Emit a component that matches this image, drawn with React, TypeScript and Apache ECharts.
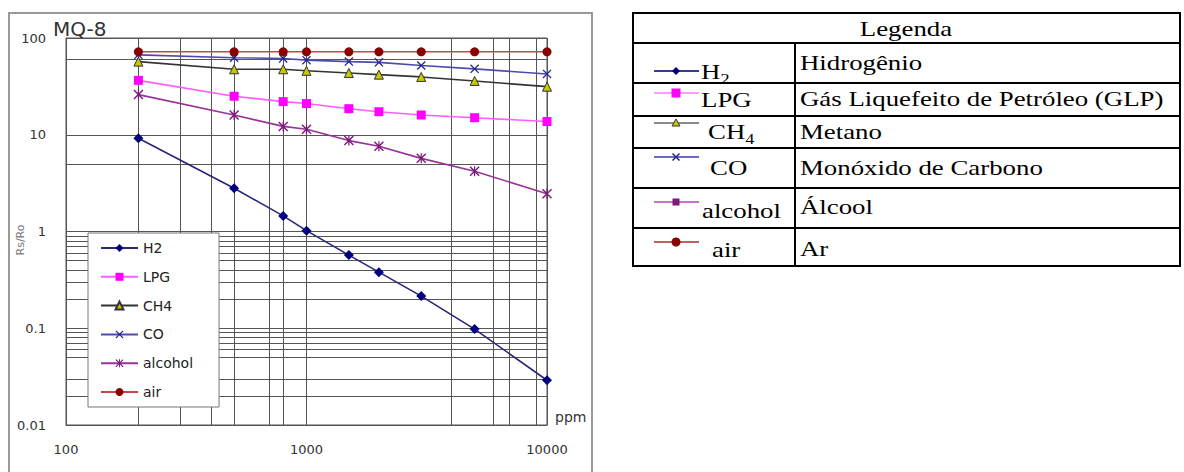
import React, { useEffect, useRef } from 'react';
import * as echarts from 'echarts';

// ---- data ----
const ppm = [200, 500, 800, 1000, 1500, 2000, 3000, 5000, 10000];
const h2 = [9.2, 2.8, 1.45, 1.02, 0.57, 0.38, 0.215, 0.098, 0.029];
const lpg = [36.5, 25, 22, 21, 18.6, 17.3, 16, 15, 13.7];
const ch4 = [57, 47.5, 47.5, 45.8, 43.5, 41.8, 39.6, 36, 31.4];
const co = [67, 62.5, 61.5, 59, 57, 56, 52, 48, 42.5];
const alcohol = [26, 16, 12.2, 11.4, 8.7, 7.6, 5.7, 4.2, 2.45];
const air = [72, 72, 72, 72, 72, 72, 72, 72, 72];

const seriesNames = ['H2', 'LPG', 'CH4', 'CO', 'alcohol', 'air'];
const xTickLabels = ['100', '1000', '10000'];
const yTickLabels = ['0.01', '0.1', '1', '10', '100'];
const xGridExtra = [200, 300, 400, 500, 700, 800, 4000, 6000, 7000, 9000];
const yGridExtra = [60, 5, 0.9, 0.8, 0.7, 0.6, 0.5, 0.4, 0.3, 0.2, 0.09, 0.08, 0.07, 0.06, 0.05, 0.03, 0.02];

const tableHeader = 'Legenda';
const tableCodes = [
  ['H', '2'],
  ['LPG', ''],
  ['CH', '4'],
  ['CO', ''],
  ['alcohol', ''],
  ['air', ''],
];
const tableNames = ['Hidrogênio', 'Gás Liquefeito de Petróleo (GLP)', 'Metano', 'Monóxido de Carbono', 'Álcool', 'Ar'];

// ---- styles ----
const SANS = '"DejaVu Sans", Verdana, sans-serif';
const SERIF = '"Liberation Serif", "Times New Roman", serif';
const GRID = '#555';
const X_SYMBOL = 'path://M0,1L1,0L5,4L9,0L10,1L6,5L10,9L9,10L5,6L1,10L0,9L4,5Z';
const AST_SYMBOL = 'path://M0,1L1,0L5,4L9,0L10,1L6,5L10,9L9,10L5,6L1,10L0,9L4,5Z M4.4,0L5.6,0L5.6,10L4.4,10Z';

const seriesStyles = [
  { line: '#26267a', fill: '#000080', symbol: 'diamond', size: 10, border: '#000080' },
  { line: '#ff5cff', fill: '#ff00ff', symbol: 'rect', size: 9, border: '#ff00ff' },
  { line: '#333333', fill: '#c8c800', symbol: 'triangle', size: 9, border: '#333333' },
  { line: '#4c4cb0', fill: '#24248c', symbol: X_SYMBOL, size: 9, border: '#24248c' },
  { line: '#993399', fill: '#7a1a7a', symbol: AST_SYMBOL, size: 10, border: '#7a1a7a' },
  { line: '#c04848', fill: '#8b0000', symbol: 'circle', size: 9, border: '#8b0000' },
];
const seriesValues = [h2, lpg, ch4, co, alcohol, air];

function tableGraphics(): any[] {
  const els: any[] = [];
  const L = 633, R = 1180, MID = 795;
  const rows = [13, 43, 83, 116, 148, 188, 228, 266];
  const iconY = [71, 93, 123, 157, 202, 242];
  const codeY = [71, 99, 131, 167, 210, 249];
  const codeX = [701, 701, 708, 710, 702, 712];
  const nameY = [62, 98, 131, 167, 206, 248];
  const ls = { stroke: '#000', lineWidth: 2 };
  rows.forEach((y) => els.push({ type: 'line', shape: { x1: L - 1, y1: y, x2: R + 1, y2: y }, style: ls }));
  els.push({ type: 'line', shape: { x1: L, y1: rows[0], x2: L, y2: rows[7] }, style: ls });
  els.push({ type: 'line', shape: { x1: R, y1: rows[0], x2: R, y2: rows[7] }, style: ls });
  els.push({ type: 'line', shape: { x1: MID, y1: rows[1], x2: MID, y2: rows[7] }, style: ls });
  els.push({
    type: 'text', x: 906, y: 28, scaleX: 1.22,
    style: { text: tableHeader, fontSize: 22, fontFamily: SERIF, fill: '#000', align: 'center', verticalAlign: 'middle' },
  });
  tableNames.forEach((n, i) => {
    els.push({
      type: 'text', x: 800, y: nameY[i], scaleX: 1.22,
      style: { text: n, fontSize: 22, fontFamily: SERIF, fill: '#000', align: 'left', verticalAlign: 'middle' },
    });
  });
  tableCodes.forEach((c, i) => {
    const txt = c[1] ? `{b|${c[0]}}{s|${c[1]}}` : `{b|${c[0]}}`;
    els.push({
      type: 'text', x: codeX[i], y: codeY[i], scaleX: 1.22,
      style: {
        text: txt, fill: '#000', align: 'left', verticalAlign: 'middle',
        rich: {
          b: { fontSize: 22, fontFamily: SERIF, lineHeight: 26, fill: '#000' },
          s: { fontSize: 15, fontFamily: SERIF, lineHeight: 32, verticalAlign: 'bottom', fill: '#000' },
        },
      },
    });
  });
  // icons
  const lightLines = ['#3a3a90', '#ff9cff', '#8a8a8a', '#6a6acc', '#cc70cc', '#c06060'];
  seriesStyles.forEach((s, i) => {
    const cy = iconY[i];
    const cx = 676;
    els.push({ type: 'line', shape: { x1: 654, y1: cy, x2: 699, y2: cy }, style: { stroke: lightLines[i], lineWidth: 2 } });
    if (i === 0) {
      els.push({ type: 'polygon', shape: { points: [[cx, cy - 4], [cx + 4, cy], [cx, cy + 4], [cx - 4, cy]] }, style: { fill: s.fill } });
    } else if (i === 1) {
      els.push({ type: 'rect', shape: { x: cx - 4.5, y: cy - 4.5, width: 9, height: 9 }, style: { fill: s.fill } });
    } else if (i === 2) {
      els.push({ type: 'polygon', shape: { points: [[cx, cy - 4], [cx + 4, cy + 3], [cx - 4, cy + 3]] }, style: { fill: s.fill, stroke: '#333', lineWidth: 1 } });
    } else if (i === 3) {
      els.push({ type: 'line', shape: { x1: cx - 3.5, y1: cy - 3.5, x2: cx + 3.5, y2: cy + 3.5 }, style: { stroke: s.fill, lineWidth: 1.5 } });
      els.push({ type: 'line', shape: { x1: cx + 3.5, y1: cy - 3.5, x2: cx - 3.5, y2: cy + 3.5 }, style: { stroke: s.fill, lineWidth: 1.5 } });
    } else if (i === 4) {
      els.push({ type: 'rect', shape: { x: cx - 3.5, y: cy - 3.5, width: 7, height: 7 }, style: { fill: s.fill } });
    } else {
      els.push({ type: 'circle', shape: { cx, cy, r: 4.5 }, style: { fill: s.fill } });
    }
  });
  return els;
}

export default function App() {
  const ref = useRef<HTMLDivElement>(null);
  useEffect(() => {
    if (!ref.current) return;
    const chart = echarts.init(ref.current, null, { renderer: 'svg' });
    const dataSeries = seriesNames.map((name, i) => {
      const s = seriesStyles[i];
      return {
        name,
        type: 'line',
        data: ppm.map((x, j) => [x, seriesValues[i][j]]),
        symbol: s.symbol,
        symbolSize: s.size,
        lineStyle: { color: s.line, width: 1.6 },
        itemStyle: { color: s.fill, borderColor: s.border, borderWidth: i === 2 ? 1 : 0 },
        z: 3,
      };
    });
    const gridSeries = {
      name: 'grid',
      type: 'line',
      data: [[100, 0.01]],
      symbol: 'none',
      lineStyle: { opacity: 0 },
      silent: true,
      z: 1,
      markLine: {
        silent: true,
        z: 1,
        symbol: ['none', 'none'],
        label: { show: false },
        lineStyle: { color: GRID, width: 1, type: 'solid' },
        emphasis: { disabled: true },
        data: [
          ...xGridExtra.map((v) => ({ xAxis: v })),
          ...yGridExtra.map((v) => ({ yAxis: v })),
        ],
      },
    };
    chart.setOption({
      animation: false,
      title: {
        text: 'MQ-8', left: 53, top: 19, padding: 0,
        textStyle: { fontSize: 20, fontWeight: 'normal', color: '#333', fontFamily: SANS },
      },
      grid: { left: 66, top: 38, width: 481, height: 387, show: true, borderColor: GRID, borderWidth: 1 },
      legend: {
        data: seriesNames,
        orient: 'vertical',
        left: 88,
        top: 233,
        z: 10,
        padding: [8, 26, 8, 12],
        itemWidth: 37,
        itemHeight: 10,
        itemGap: 14.8,
        backgroundColor: '#fff',
        borderColor: '#777',
        borderWidth: 1,
        borderRadius: 0,
        textStyle: { fontSize: 14, fontFamily: SANS, color: '#222', lineHeight: 14 },
        selectedMode: false,
      },
      xAxis: {
        type: 'log', logBase: 10, min: 100, max: 10000,
        axisLine: { show: true, lineStyle: { color: GRID } },
        axisTick: { show: false },
        axisLabel: {
          margin: 18, fontSize: 13, color: '#333', fontFamily: SANS,
          formatter: (v: number) => xTickLabels[Math.round(Math.log10(v)) - 2] ?? '',
        },
        splitLine: { show: true, lineStyle: { color: GRID, width: 1 } },
      },
      yAxis: {
        type: 'log', logBase: 10, min: 0.01, max: 100,
        axisLine: { show: true, lineStyle: { color: GRID } },
        axisTick: { show: false },
        axisLabel: {
          margin: 20, fontSize: 13, color: '#333', fontFamily: SANS,
          formatter: (v: number) => yTickLabels[Math.round(Math.log10(v)) + 2] ?? '',
        },
        splitLine: { show: true, lineStyle: { color: GRID, width: 1 } },
      },
      series: [gridSeries, ...dataSeries],
      graphic: [
        { type: 'rect', z: -1, shape: { x: 9, y: 13, width: 583, height: 480 }, style: { fill: 'none', stroke: '#999', lineWidth: 2 } },
        { type: 'text', x: 20, y: 240, rotation: Math.PI / 2, style: { text: 'Rs/Ro', fontSize: 11, fontFamily: SANS, fill: '#777', align: 'center', verticalAlign: 'middle' } },
        { type: 'text', x: 555, y: 417, style: { text: 'ppm', fontSize: 14, fontFamily: SANS, fill: '#333', align: 'left', verticalAlign: 'middle' } },
        ...tableGraphics(),
      ],
    });
    return () => chart.dispose();
  }, []);
  return <div ref={ref} style={{ position: 'absolute', left: 0, top: 0, width: 1184, height: 472 }} />;
}
